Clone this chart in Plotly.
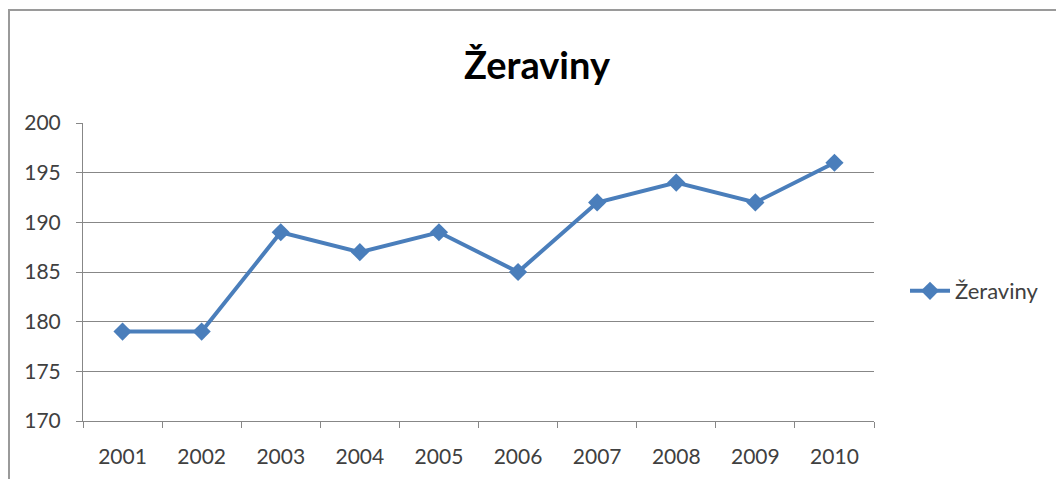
import plotly.graph_objects as go

years = ["2001", "2002", "2003", "2004", "2005", "2006", "2007", "2008", "2009", "2010"]
values = [179, 179, 189, 187, 189, 185, 192, 194, 192, 196]
series_name = "Žeraviny"
chart_title = "Žeraviny"
y_ticks = [170, 175, 180, 185, 190, 195, 200]

OFF = 8  # page body margin
W, H = 1064 - OFF, 479 - OFF
# plot area in page pixels
L, R, T, B = 83, 874, 123, 421

fig = go.Figure()
fig.add_trace(go.Scatter(
    x=years, y=values, name=series_name, mode="lines+markers",
    line=dict(color="#4A7EBB", width=4),
    marker=dict(symbol="diamond", size=14, color="#4A7EBB"),
    showlegend=True,
))

def px(x):
    return (x - L) / (R - L)

def py(y):
    return (B - y) / (B - T)

fig.update_layout(
    width=W, height=H,
    margin=dict(l=L - OFF, r=OFF + W - R, t=T - OFF, b=OFF + H - B, pad=0),
    paper_bgcolor="white", plot_bgcolor="white",
    font=dict(family="Lato, Carlito, sans-serif", color="#404040"),
    title=dict(text="<b>" + chart_title + "</b>", x=(537 - OFF) / W, xanchor="center",
               y=1 - (66 - OFF) / H, yanchor="middle",
               font=dict(size=38, color="#000000", family="Lato, sans-serif")),
    xaxis=dict(type="category", range=[-0.5, 9.5], showgrid=False,
               showline=True, linecolor="#878787", linewidth=1,
               ticks="outside", ticklen=6, tickcolor="#878787", tickson="boundaries",
               tickfont=dict(size=21, color="#404040"), ticklabelstandoff=17,
               fixedrange=True),
    yaxis=dict(range=[170, 200], tickvals=y_ticks, showgrid=True, gridcolor="#878787",
               gridwidth=1, showline=True, linecolor="#878787", linewidth=1,
               ticks="outside", ticklen=6, tickcolor="#878787",
               tickfont=dict(size=21, color="#404040"), ticklabelstandoff=11,
               zeroline=False),
    legend=dict(x=px(905), xanchor="left", y=py(291), yanchor="middle",
                font=dict(size=22, color="#404040"), bgcolor="rgba(0,0,0,0)",
                itemwidth=40, tracegroupgap=0),
    shapes=[
        dict(type="line", xref="paper", yref="paper", x0=px(8), x1=px(1070),
             y0=py(10), y1=py(10), line=dict(color="#9a9a9a", width=2)),
        dict(type="line", xref="paper", yref="paper", x0=px(9), x1=px(9),
             y0=py(10), y1=py(485), line=dict(color="#9a9a9a", width=2)),
    ],
)

fig.write_html("out.html")
